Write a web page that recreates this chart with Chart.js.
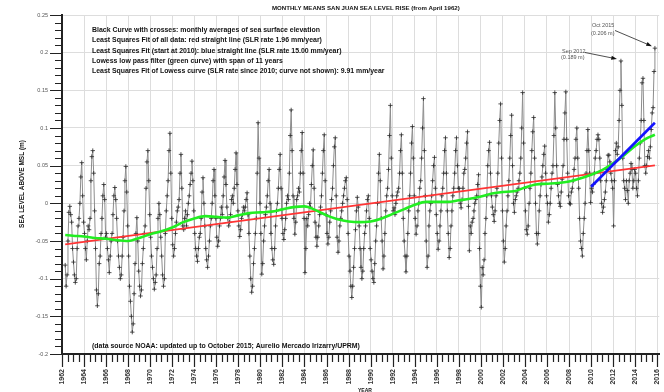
<!DOCTYPE html>
<html>
<head>
<meta charset="utf-8">
<script src="https://cdn.jsdelivr.net/npm/chart.js@4.4.1/dist/chart.umd.min.js"></script>
<style>
  html, body { margin: 0; padding: 0; background: #fff; }
  #wrap { width: 664px; height: 392px; }
</style>
</head>
<body>
<div id="wrap"><canvas id="slrChart" width="664" height="392"></canvas></div>
<script>
// San Juan monthly mean sea level, mm above MSL, April 1962 .. October 2015
const startYear = 1962;
const startMonth = 4;
const monthlyMm = [
  -82, -110, -95, -50, -12, -4, -15, -25, -60,
  -78, -95, -105, -100, -60, -30, -20, 0, 35, 54, 10, -25,
  -40, -60, -75, -50, -30, -35, -20, 30, 62, 70, 40, -10,
  -60, -115, -136, -120, -80, -70, -40, -20, 10, 25, 5, -45,
  -40, -60, -75, -92, -70, -50, -40, -15, 10, 21, 5, -20,
  -50, -70, -85, -100, -95, -70, -45, -10, 30, 49, 15, -30,
  -70, -110, -130, -150, -171, -160, -120, -80, -40, -19, -50, -90,
  -110, -123, -115, -80, -60, -40, -30, 20, 55, 70, 30, -15,
  -45, -70, -85, -100, -114, -105, -95, -60, -20, 0, -15, -45,
  -70, -95, -110, -100, -40, -10, 10, 30, 70, 93, 40, -20,
  -55, -70, -60, -40, -25, -10, -5, 5, 40, 65, 20, -30,
  -35, -20, -10, -30, -15, 0, 10, 25, 40, 56, 30, -10,
  -40, -60, -70, -77, -60, -45, -40, -20, 15, 34, 0, -30,
  -60, -75, -85, -70, -50, -30, -20, 0, 30, 45, 10, -20,
  -45, -57, -50, -30, -20, -5, -15, 10, 35, 57, 25, -5,
  -20, -30, -25, -15, 5, 10, 0, 20, 45, 67, 25, -10,
  -30, -44, -35, -20, -15, -5, -10, -5, 5, 14, -15, -40,
  -70, -100, -118, -110, -80, -60, -40, -20, 40, 107, 60, 0,
  -40, -94, -80, -50, -30, -15, -5, 10, 30, 45, 0, -40,
  -60, -75, -81, -60, -30, -10, 0, 20, 45, 65, 20, -20,
  -40, -48, -35, -20, 0, 10, 5, 40, 90, 124, 70, 10,
  -20, -41, -25, 5, 10, 20, 15, 40, 70, 94, 40, -20,
  -92, -60, -20, -30, -15, 0, -5, 25, 50, 71, 20, -25,
  -45, -57, -45, -30, -15, -5, 10, 40, 70, 91, 30, -15,
  -40, -54, -45, -25, -10, 5, 20, 50, 75, 87, 10, -45,
  -65, -50, -30, -20, -10, 0, 10, 20, 30, 34, 5, -40,
  -70, -90, -110, -125, -110, -85, -60, -35, -10, 8, -5, -30,
  -60, -85, -100, -90, -60, -40, -30, -10, 5, 10, -20, -60,
  -75, -90, -100, -105, -80, -50, -30, 0, 40, 65, 30, -20,
  -50, -87, -70, -40, -10, 10, 20, 45, 90, 130, 60, 10,
  -10, -6, -15, 0, 10, 15, 20, 40, 70, 91, 40, -20,
  -50, -70, -91, -70, -40, -10, 10, 40, 80, 102, 60, 10,
  -20, -41, -30, -10, 0, 20, 30, 60, 100, 139, 70, 10,
  -50, -85, -70, -30, -10, 0, 10, 30, 50, 61, 20, -15,
  -40, -61, -50, -30, -10, 10, 20, 40, 70, 87, 40, -10,
  -40, -72, -60, -30, -10, 10, 20, 40, 70, 87, 50, 20,
  20, 0, -6, 5, 20, 40, 45, 60, 80, 95, -4, -63,
  -30, -40, -25, -20, -10, 0, 5, 10, 25, 38, -60, -110,
  -138, -85, -95, -75, -40, -20, 10, 50, 70, 81, 40, 10,
  -5, -15, -24, -10, 10, 20, 40, 80, 110, 132, 60, -10,
  -50, -78, -60, -30, -10, 10, 30, 60, 90, 117, 50, 0,
  -12, 5, 10, 15, 20, 30, 40, 60, 100, 147, 80, 20,
  -10, -35, -41, -30, 0, 20, 40, 70, 95, 114, 60, 0,
  -40, -54, -40, -10, 10, 25, 35, 50, 65, 76, 40, 10,
  0, -25, -15, 0, 20, 40, 50, 90, 147, 100, 50, 25,
  10, 0, -4, 15, 32, 50, 85, 120, 148, 85, 40, 10,
  0, -1, 15, 20, 30, 45, 60, 85, 100, 60, 20, -20,
  -50, -60, -70, -40, -20, 0, 40, 70, 98, 70, 40, 1,
  20, 15, 25, 40, 60, 70, 85, 91, 85, 60, 30, 0,
  -12, -5, 5, 15, 30, 45, 64, 64, 55, 40, 30, 20,
  -30, 30, 70, 80, 65, 75, 110, 150, 189, 130, 60, 30,
  20, 5, 30, 17, 0, 30, 40, 53, 45, 20, 30, 45,
  40, 20, 10, 30, 60, 80, 110, 160, 166, 110, 50, 40,
  50, 62, 70, 60, 75, 98, 120, 127, 175, 206
];

// lowess low pass filter (green)
const lowessYears = [1962.29, 1963, 1964, 1965, 1966, 1967, 1968, 1969, 1970, 1971, 1972, 1973, 1974, 1975,
  1976, 1977, 1978, 1979, 1980, 1981, 1982, 1983, 1984, 1985, 1986, 1987, 1988, 1989, 1990, 1991,
  1992, 1993, 1994, 1995, 1996, 1997, 1998, 1999, 2000, 2001, 2002, 2003, 2004, 2005, 2006, 2007,
  2008, 2009, 2010, 2011, 2012, 2013, 2014, 2015, 2015.79];
const lowessMm = [-42, -43, -44, -46, -47, -49, -50, -46, -41, -37, -32, -25, -20, -17,
  -18, -19, -16, -13, -12, -11, -8, -5, -4, -9, -16, -21, -24, -25, -24, -20,
  -14, -8, -2, 2, 2, 2, 4, 6, 9, 13, 15, 16, 21, 25, 26, 27,
  29, 33, 38, 44, 53, 64, 76, 86, 91];

// least squares fits (end points)
const fitAllYears = [1962.29, 2015.79];
const fitAllMm = [-54.5, 50.4];
const fit2010Years = [2010.0, 2015.79];
const fit2010Mm = [22, 107];

const infoLines = [
  "Black Curve with crosses: monthly averages of sea surface elevation",
  "Least Squares Fit of all data: red straight line (SLR rate 1.96 mm/year)",
  "Least Squares Fit (start at 2010): blue straight line (SLR rate 15.00 mm/year)",
  "Lowess low pass filter (green curve) with span of 11 years",
  "Least Squares Fit of Lowess curve (SLR rate since 2010; curve not shown): 9.91 mm/year"
];

const monthly = monthlyMm.map((mm, i) => ({
  x: startYear + (startMonth - 1 + i + 0.5) / 12,
  y: mm / 1000
}));
const toPoints = (xs, ys) => xs.map((x, i) => ({ x: x, y: ys[i] / 1000 }));

const isEvenYear = v => Math.abs(v / 2 - Math.round(v / 2)) < 1e-6;
const isMajorLevel = v => Math.abs(v * 20 - Math.round(v * 20)) < 1e-6;

function fitText(ctx, text, width, weight) {
  ctx.font = weight + " 10px 'Liberation Sans', Arial, sans-serif";
  const size = 10 * width / ctx.measureText(text).width;
  ctx.font = weight + " " + size.toFixed(2) + "px 'Liberation Sans', Arial, sans-serif";
}

function arrow(ctx, x1, y1, x2, y2) {
  const a = Math.atan2(y2 - y1, x2 - x1);
  ctx.beginPath();
  ctx.moveTo(x1, y1);
  ctx.lineTo(x2 - 4 * Math.cos(a), y2 - 4 * Math.sin(a));
  ctx.stroke();
  ctx.beginPath();
  ctx.moveTo(x2, y2);
  ctx.lineTo(x2 - 6 * Math.cos(a - 0.35), y2 - 6 * Math.sin(a - 0.35));
  ctx.lineTo(x2 - 6 * Math.cos(a + 0.35), y2 - 6 * Math.sin(a + 0.35));
  ctx.closePath();
  ctx.fill();
}

const decorations = {
  id: 'decorations',
  afterDraw(chart) {
    const ctx = chart.ctx;
    const xs = chart.scales.x;
    const ys = chart.scales.y;
    const area = chart.chartArea;
    ctx.save();

    // minor / major ticks
    ctx.strokeStyle = '#222';
    ctx.lineWidth = 1.2;
    ctx.beginPath();
    for (let k = 1962 * 2; k <= 2016 * 2; k++) {
      const v = k / 2;
      const px = Math.round(xs.getPixelForValue(v)) + 0.5;
      ctx.moveTo(px, area.bottom);
      ctx.lineTo(px, area.bottom + (isEvenYear(v) ? 13 : 8));
    }
    for (let k = -20; k <= 25; k++) {
      const v = k / 100;
      const py = Math.round(ys.getPixelForValue(v)) + 0.5;
      ctx.moveTo(area.left, py);
      ctx.lineTo(area.left - (isMajorLevel(v) ? 12 : 7), py);
    }
    ctx.stroke();

    ctx.fillStyle = '#111';
    ctx.textBaseline = 'middle';
    ctx.textAlign = 'left';

    fitText(ctx, "MONTHLY MEANS SAN JUAN SEA LEVEL RISE (from April 1962)", 188, 'bold');
    ctx.fillText("MONTHLY MEANS SAN JUAN SEA LEVEL RISE (from April 1962)", 272, 8);

    const lineWidths = [228, 230, 250, 191, 293];
    const lineY = [30, 40.5, 51, 61.5, 71.5];
    infoLines.forEach((t, i) => {
      fitText(ctx, t, lineWidths[i], 'bold');
      ctx.fillText(t, 92, lineY[i]);
    });

    const note = "(data source NOAA: updated up to October 2015; Aurelio Mercado Irizarry/UPRM)";
    fitText(ctx, note, 268, 'bold');
    ctx.fillText(note, 92, 346);

    // axis titles
    ctx.save();
    ctx.translate(22, 184);
    ctx.rotate(-Math.PI / 2);
    ctx.textAlign = 'center';
    fitText(ctx, "SEA LEVEL ABOVE MSL (m)", 88, 'bold');
    ctx.fillText("SEA LEVEL ABOVE MSL (m)", 0, 0);
    ctx.restore();
    ctx.textAlign = 'center';
    fitText(ctx, "YEAR", 14, 'bold');
    ctx.fillText("YEAR", 365, 391);

    // peak annotations
    ctx.fillStyle = '#555';
    ctx.textAlign = 'left';
    ctx.font = "5.5px 'Liberation Sans', Arial, sans-serif";
    ctx.fillText("Oct 2015", 592, 25.5);
    ctx.fillText("(0.206 m)", 591, 33);
    ctx.fillText("Sep 2012", 562, 51);
    ctx.fillText("(0.189 m)", 561, 57.5);

    ctx.strokeStyle = '#222';
    ctx.fillStyle = '#111';
    ctx.lineWidth = 0.8;
    const last = monthly[monthly.length - 1];
    arrow(ctx, 615, 30.5, xs.getPixelForValue(last.x) - 3, ys.getPixelForValue(last.y) - 2);
    const sep12 = monthly.find(p => Math.abs(p.y - 0.189) < 1e-9);
    arrow(ctx, 585, 52.5, xs.getPixelForValue(sep12.x) - 4, ys.getPixelForValue(sep12.y) - 2);

    ctx.restore();
  }
};

Chart.defaults.font.family = "'Liberation Sans', Arial, sans-serif";

new Chart(document.getElementById('slrChart'), {
  type: 'scatter',
  data: {
    datasets: [
      {
        label: 'Least Squares Fit (start at 2010)',
        data: toPoints(fit2010Years, fit2010Mm),
        showLine: true,
        borderColor: '#1414ff',
        borderWidth: 2.6,
        pointRadius: 0,
        order: 1
      },
      {
        label: 'Lowess',
        data: toPoints(lowessYears, lowessMm),
        showLine: true,
        borderColor: '#22ee22',
        borderWidth: 2.6,
        pointRadius: 0,
        cubicInterpolationMode: 'monotone',
        order: 2
      },
      {
        label: 'Least Squares Fit of all data',
        data: toPoints(fitAllYears, fitAllMm),
        showLine: true,
        borderColor: '#ff3434',
        borderWidth: 1.6,
        pointRadius: 0,
        order: 3
      },
      {
        label: 'Monthly means',
        data: monthly,
        showLine: true,
        borderColor: '#8c8c8c',
        borderWidth: 1,
        pointStyle: 'cross',
        pointRadius: 2.2,
        pointBorderColor: '#2a2a2a',
        pointBorderWidth: 0.8,
        order: 4
      }
    ]
  },
  options: {
    responsive: false,
    animation: false,
    layout: { padding: { top: 15, right: 4, left: 0, bottom: 0 } },
    plugins: {
      legend: { display: false },
      tooltip: { enabled: false }
    },
    scales: {
      x: {
        type: 'linear',
        min: 1962,
        max: 2016.18,
        afterFit: s => { s.height = 38; s.paddingLeft = 0; s.paddingRight = 0; },
        grid: {
          color: c => isEvenYear(c.tick.value) ? '#dddddd' : 'rgba(0,0,0,0)',
          lineWidth: 1,
          drawTicks: false
        },
        border: { color: '#222', width: 2 },
        ticks: {
          stepSize: 0.5,
          autoSkip: false,
          includeBounds: false,
          minRotation: 90,
          maxRotation: 90,
          padding: 15,
          color: '#333',
          font: { size: 7, weight: 'bold' },
          callback: v => isEvenYear(v) ? String(Math.round(v)) : ''
        }
      },
      y: {
        min: -0.2,
        max: 0.25,
        afterFit: s => { s.width = 62; s.paddingTop = 0; s.paddingBottom = 0; },
        grid: {
          color: c => isMajorLevel(c.tick.value) ? '#dddddd' : 'rgba(0,0,0,0)',
          lineWidth: 1,
          drawTicks: false
        },
        border: { color: '#222', width: 2 },
        ticks: {
          stepSize: 0.01,
          autoSkip: false,
          padding: 14,
          color: '#555',
          font: { size: 5.5 },
          callback: v => isMajorLevel(v) ? String(Math.round(v * 100) / 100) : ''
        }
      }
    }
  },
  plugins: [decorations]
});
</script>
</body>
</html>
